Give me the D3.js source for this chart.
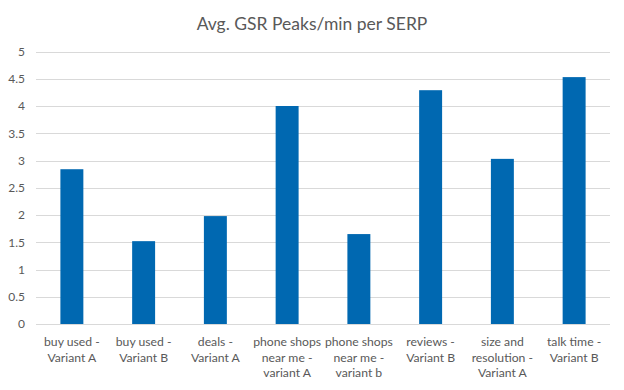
<!DOCTYPE html>
<html><head><meta charset="utf-8">
<script src="https://cdn.jsdelivr.net/npm/d3@7"></script>
<style>body{margin:0;background:#fff}svg{display:block}text{font-family:Lato,sans-serif}</style>
</head><body><svg id="c" width="624" height="390"></svg>
<script>
const categories = [
  ["buy used -","Variant A"],
  ["buy used -","Variant B"],
  ["deals -","Variant A"],
  ["phone shops","near me -","variant A"],
  ["phone shops","near me -","variant b"],
  ["reviews -","Variant B"],
  ["size and","resolution -","Variant A"],
  ["talk time -","Variant B"]
];
const values = [2.84, 1.52, 1.98, 4.0, 1.65, 4.29, 3.03, 4.53];
const yTicks = [0,0.5,1,1.5,2,2.5,3,3.5,4,4.5,5];
const title = "Avg. GSR Peaks/min per SERP";

const svg = d3.select("#c");
const x = d3.scaleBand().domain(d3.range(values.length)).range([36,610]).paddingInner(0.68).paddingOuter(0.34);
const y = d3.scaleLinear().domain([0,5]).range([324,51.5]);

svg.append("text").attr("x",312).attr("y",30).attr("text-anchor","middle")
  .attr("font-size",17.5).attr("fill","#595959").text(title);

const grid = svg.append("g");
grid.selectAll("line").data(yTicks).join("line")
  .attr("x1",36).attr("x2",610).attr("y1",d=>Math.round(y(d))+0.5).attr("y2",d=>Math.round(y(d))+0.5)
  .attr("stroke","#d9d9d9").attr("stroke-width",1);

const yAxis = svg.append("g").attr("transform","translate(25,0)")
  .call(d3.axisLeft(y).tickValues(yTicks).tickSize(0).tickPadding(0).tickFormat(d=>String(d)));
yAxis.select(".domain").remove();
yAxis.selectAll("text").attr("font-size",12).attr("fill","#595959").attr("font-family","Lato, sans-serif");

svg.append("g").selectAll("rect").data(values).join("rect")
  .attr("x",(d,i)=>x(i)).attr("width",x.bandwidth())
  .attr("y",d=>y(d)).attr("height",d=>y(0)-y(d)).attr("fill","#0068b1");

const xl = svg.append("g");
categories.forEach((lines,i)=>{
  const t = xl.append("text").attr("text-anchor","middle").attr("font-size",12.2).attr("fill","#595959")
    .attr("x",x(i)+x.bandwidth()/2).attr("y",346);
  lines.forEach((l,j)=>t.append("tspan").attr("x",x(i)+x.bandwidth()/2).attr("dy",j?15.5:0).text(l));
});
</script></body></html>
